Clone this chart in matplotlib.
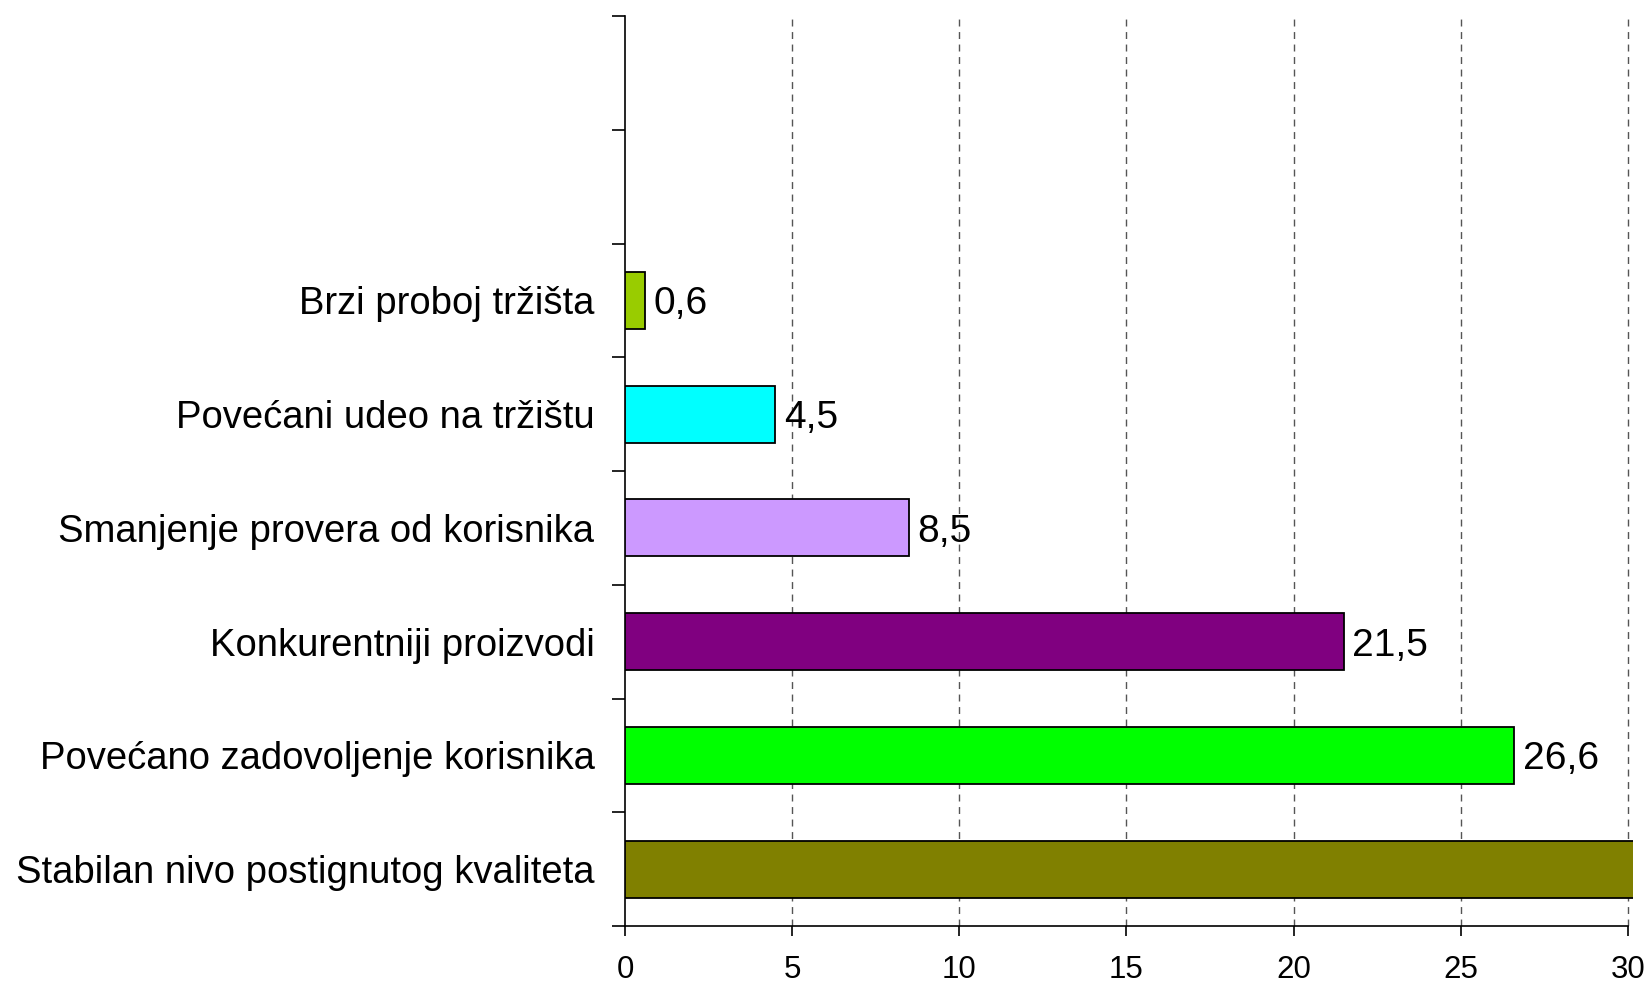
import matplotlib
matplotlib.use("Agg")
import matplotlib.pyplot as plt
import numpy as np

plt.rcParams['font.family'] = ['Liberation Sans', 'DejaVu Sans']

# data, bottom to top
categories = ["Stabilan nivo postignutog kvaliteta",
              "Povećano zadovoljenje korisnika",
              "Konkurentniji proizvodi",
              "Smanjenje provera od korisnika",
              "Povećani udeo na tržištu",
              "Brzi proboj tržišta"]
values = [38.3, 26.6, 21.5, 8.5, 4.5, 0.6]
colors = ["#808000", "#00FF00", "#800080", "#CC99FF", "#00FFFF", "#99CC00"]
n_slots = 8  # two empty slots on top
x_ticks = [0, 5, 10, 15, 20, 25, 30]

fig = plt.figure(figsize=(16.48, 9.84), dpi=100)
ax = fig.add_axes([625/1648, 1-926/984, (1633-625)/1648, (926-16)/984])

ypos = np.arange(len(categories))
bars = ax.barh(ypos, values, height=0.5, color=colors, edgecolor="black",
               linewidth=1.3, zorder=3)

for b, v in zip(bars, values):
    ax.annotate("{:.1f}".format(v).replace(".", ","),
                xy=(v, b.get_y() + b.get_height()/2), xytext=(6, 0),
                textcoords="offset points", ha="left", va="center_baseline",
                fontsize=28, zorder=4)

ax.set_xlim(0, 30.15)
ax.set_ylim(-0.5, n_slots - 0.5)

ax.set_xticks(x_ticks)
ax.set_xticklabels([str(t) for t in x_ticks], fontsize=22.5)
ax.tick_params(axis="x", direction="out", length=7, width=1.2, pad=14)

ax.set_yticks(ypos)
ax.set_yticklabels(categories, fontsize=27.5)
ax.set_yticks(np.arange(n_slots + 1) - 0.5, minor=True)
ax.tick_params(axis="y", which="major", length=0, pad=22)
ax.tick_params(axis="y", which="minor", direction="out", length=9.4, width=1.2)

for t in x_ticks[1:]:
    ax.axvline(t, color="#555555", linestyle=(0, (5, 4)), linewidth=1.0, zorder=1)

for s in ["top", "right"]:
    ax.spines[s].set_visible(False)
ax.spines["bottom"].set_bounds(0, 30)
ax.spines["left"].set_linewidth(1.2)
ax.spines["bottom"].set_linewidth(1.2)

fig.savefig("out.png", dpi=100)
